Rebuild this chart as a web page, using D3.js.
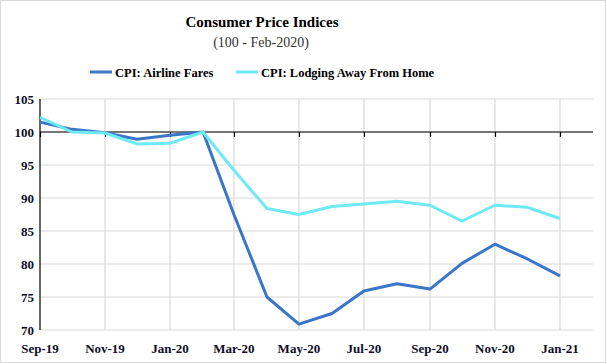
<!DOCTYPE html>
<html>
<head>
<meta charset="utf-8">
<script src="https://cdn.jsdelivr.net/npm/d3@7"></script>
<style>
   body{margin:0;background:#fff;}
   svg text{font-family:"Liberation Serif","DejaVu Serif",serif !important;}
</style>
</head>
<body>
<svg id="chart" width="607" height="364"></svg>
<script>
// monthly index values, Feb-2020 = 100
var months = ["2019-09","2019-10","2019-11","2019-12","2020-01","2020-02","2020-03","2020-04",
   "2020-05","2020-06","2020-07","2020-08","2020-09","2020-10","2020-11","2020-12","2021-01"];
var airline = [101.5,100.4,99.9,98.9,99.5,100,87.5,75.0,70.9,72.5,75.9,77.0,76.2,80.1,83.0,80.8,78.2];
var lodging = [102.2,100.0,99.85,98.2,98.3,100,94.2,88.4,87.5,88.7,89.1,89.5,88.9,86.5,88.9,88.6,86.9];
var yTicks = [70,75,80,85,90,95,100,105];
var seriesNames = ["CPI: Airline Fares","CPI: Lodging Away From Home"];
var colors = ["#3a76c8","#6fe9f5"];

const parse = d3.timeParse("%Y-%m");
const dates = months.map(parse);

const svg = d3.select("#chart");

// outer frame
svg.append("rect")
   .attr("x",0.5).attr("y",0.5).attr("width",605).attr("height",362)
   .attr("fill","#fff").attr("stroke","#d9d9d9")

const plotLeft = 40, plotRight = 593, plotTop = 99, plotBottom = 330;

const x = d3.scaleTime()
   .domain([parse("2019-09"), parse("2021-02")])
   .range([plotLeft, plotRight]);
const y = d3.scaleLinear()
   .domain([70,105])
   .range([plotBottom, plotTop]);

const xTicks = d3.timeMonth.every(2).range(parse("2019-09"), parse("2021-02"));

// horizontal grid
svg.append("g")
   .selectAll("line")
   .data(yTicks)
   .enter().append("line")
      .attr("x1", plotLeft).attr("x2", plotRight)
      .attr("y1", d => y(d)).attr("y2", d => y(d))
      .attr("stroke","#d9d9d9").attr("stroke-width",1.2)

// vertical grid
svg.append("g")
   .selectAll("line")
   .data(xTicks.slice(1))
   .enter().append("line")
      .attr("x1", d => x(d)).attr("x2", d => x(d))
      .attr("y1", plotTop).attr("y2", plotBottom)
      .attr("stroke","#d9d9d9").attr("stroke-width",1.2)

// y axis
const yAxis = d3.axisLeft(y).tickValues(yTicks).tickSize(0).tickPadding(6);
const gy = svg.append("g").attr("transform",`translate(${plotLeft},0)`).call(yAxis);
gy.select(".domain").remove();
gy.selectAll("text")
   .attr("font-size",13).attr("font-weight","bold").attr("fill","#0d0d26");
svg.append("line")
   .attr("x1",plotLeft).attr("x2",plotLeft).attr("y1",plotTop).attr("y2",plotBottom)
   .attr("stroke","#000").attr("stroke-width",1.2)

// baseline at 100 with ticks
const xAxis = d3.axisBottom(x).tickValues(xTicks).tickSize(5).tickFormat("");
const gx = svg.append("g").attr("transform",`translate(0,${y(100)})`).call(xAxis);
gx.select(".domain").attr("d",`M${plotLeft},0H${plotRight}`).attr("stroke","#000").attr("stroke-width",1.2);
gx.selectAll("line").attr("stroke","#000").attr("stroke-width",1.2);

// month labels along the bottom
svg.append("g")
   .selectAll("text")
   .data(xTicks)
   .enter().append("text")
      .attr("x", d => x(d)).attr("y", plotBottom + 23)
      .attr("text-anchor","middle")
      .attr("font-size",13).attr("font-weight","bold").attr("fill","#0d0d26")
      .text(d => d3.timeFormat("%b-%y")(d))

// series
const line = d3.line()
   .x((d,i) => x(dates[i]))
   .y(d => y(d));

[airline, lodging].forEach((s,i) => {
   svg.append("path")
      .datum(s)
      .attr("d", line)
      .attr("fill","none")
      .attr("stroke", colors[i])
      .attr("stroke-width",3)
      .attr("stroke-linejoin","round")
})

// title
svg.append("text")
   .attr("x",262).attr("y",27).attr("text-anchor","middle")
   .attr("font-size",15).attr("font-weight","bold").attr("fill","#000")
   .text("Consumer Price Indices")
svg.append("text")
   .attr("x",261).attr("y",47).attr("text-anchor","middle")
   .attr("font-size",14).attr("fill","#333")
   .text("(100 - Feb-2020)")

// legend
const legendX = [90, 236];
seriesNames.forEach((n,i) => {
   const g = svg.append("g").attr("transform",`translate(${legendX[i]},72)`);
   g.append("line").attr("x1",0).attr("x2",22).attr("y1",0).attr("y2",0)
      .attr("stroke",colors[i]).attr("stroke-width",3);
   g.append("text").attr("x",25).attr("y",4.5)
      .attr("font-size",12.5).attr("font-weight","bold").attr("fill","#000")
      .text(n);
})
</script>
</body>
</html>
